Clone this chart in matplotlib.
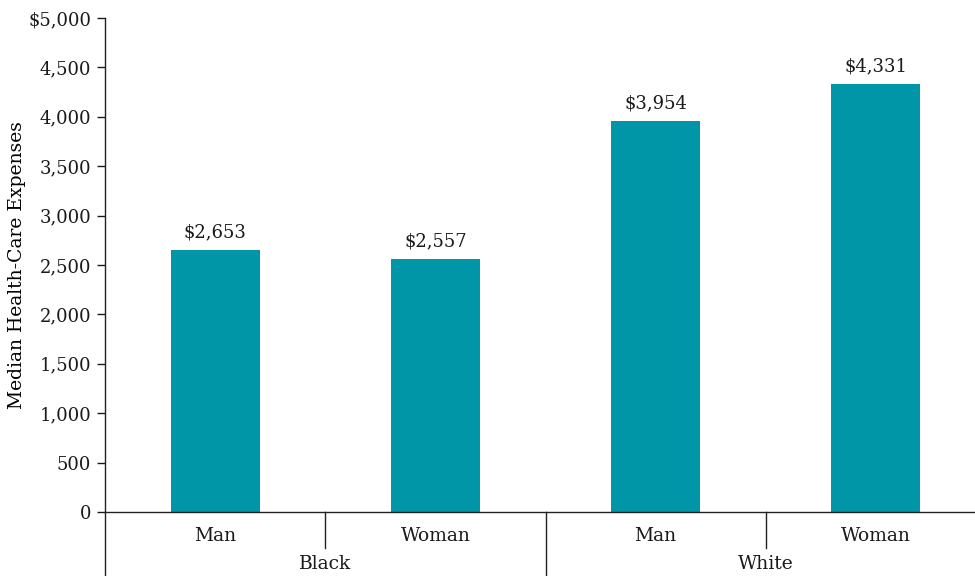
import matplotlib
matplotlib.use("Agg")
import matplotlib.pyplot as plt
import matplotlib.transforms as mtransforms

# median health-care expenses by race and sex
groups = ["Black", "White"]
sexes = ["Man", "Woman", "Man", "Woman"]
expenses = [2653, 2557, 3954, 4331]
yticks = [0, 500, 1000, 1500, 2000, 2500, 3000, 3500, 4000, 4500, 5000]

plt.rcParams['font.family'] = ['DejaVu Serif']
plt.rcParams['font.size'] = 13

fig = plt.figure(figsize=(9.75, 5.76), dpi=100)
ax = fig.add_axes([0.1077, 0.1111, 0.9036, 0.8576])

x = list(range(len(expenses)))
ax.bar(x, expenses, width=0.405, color="#0096a8")

for xi, v in zip(x, expenses):
    ax.text(xi, v + 90, "${:,}".format(v), ha="center", va="bottom", fontsize=13, color="#1a1a1a")

ax.set_xlim(-0.5, 3.5)
ax.set_ylim(0, 5000)
ax.set_yticks(yticks)
ax.set_yticklabels(["$5,000" if t == 5000 else "{:,}".format(t) for t in yticks])
ax.set_ylabel("Median Health-Care Expenses", fontsize=13.5, labelpad=1.5)
ax.tick_params(axis="y", length=6, width=1, pad=4, labelsize=13, colors="#1a1a1a")
ax.set_xticks([])

for side in ["top", "right"]:
    ax.spines[side].set_visible(False)
for side in ["left", "bottom"]:
    ax.spines[side].set_linewidth(1)
    ax.spines[side].set_color("#222222")

trans = mtransforms.blended_transform_factory(ax.transData, ax.transAxes)
# sex labels and separators
for xi, s in zip(x, sexes):
    ax.text(xi, -0.048, s, transform=trans, ha="center", va="center", fontsize=13.5, color="#1a1a1a")
for xb in [0.5, 2.5]:
    ax.plot([xb, xb], [0, -0.073], transform=trans, color="#222222", lw=1, clip_on=False)
# race group labels and separators
for gi, g in enumerate(groups):
    ax.text(gi * 2 + 0.5, -0.105, g, transform=trans, ha="center", va="center", fontsize=13.5, color="#1a1a1a")
for xb in [-0.5, 1.5, 3.5]:
    ax.plot([xb, xb], [0, -0.14], transform=trans, color="#222222", lw=1, clip_on=False)

fig.savefig("out.png", dpi=100)
